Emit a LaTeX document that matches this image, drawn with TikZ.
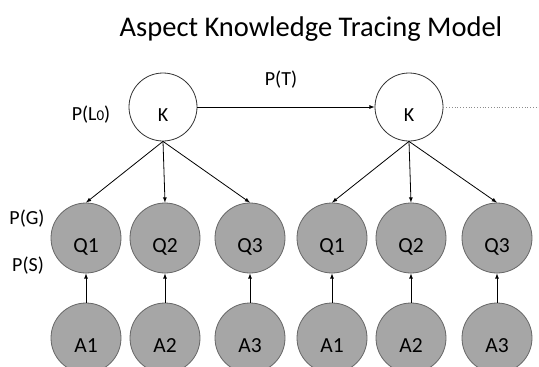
\documentclass[tikz,border=0pt]{standalone}
\usepackage{fontspec}
\setmainfont{Carlito}
\newcommand{\lowtxt}[1]{\raisebox{-14.5pt}[0pt][0pt]{#1}}
\begin{document}
\begin{tikzpicture}[x=1pt,y=-1pt,
  knode/.style={circle,draw=black!80,line width=0.8pt,fill=white,minimum size=68pt,inner sep=0pt,font=\fontsize{20}{22}\selectfont},
  onode/.style={circle,draw=black!60,line width=0.8pt,fill=black!35,minimum size=70pt,inner sep=0pt,font=\fontsize{21.5}{23}\selectfont},
  lbl/.style={font=\fontsize{20}{22}\selectfont,inner sep=0pt},
  arr/.style={-latex,line width=0.8pt}]
\useasboundingbox (0,0) rectangle (539,367);
\clip (0,0) rectangle (539,367);
\node[font=\fontsize{28.5}{30}\selectfont,inner sep=0pt] (title) at (311,29) {Aspect Knowledge Tracing Model};
\node[knode] (k1) at (163,107) {\lowtxt{K}};
\node[knode] (k2) at (409,107) {\lowtxt{K}};
\coordinate (dotend) at (545,107);
\draw[arr] (k1) -- (k2);
\draw[dotted,black!45,line width=0.8pt] (k2.east) -- (dotend);
\node[lbl] (pt) at (281,80) {P(T)};
\node[lbl] (pl0) at (91,115) {P(L{\fontsize{15}{15}\selectfont 0})};
\node[lbl] (pg) at (27,219) {P(G)};
\node[lbl] (ps) at (28,266) {P(S)};
\foreach \nm/\x/\t in {q1/86/Q1,q2/165/Q2,q3/250/Q3,q4/332/Q1,q5/411/Q2,q6/497/Q3}{
  \node[onode] (\nm) at (\x,238) {\lowtxt{\t}};
}
\foreach \nm/\x/\t in {a1/86/A1,a2/165/A2,a3/250/A3,a4/332/A1,a5/411/A2,a6/497/A3}{
  \node[onode] (\nm) at (\x,338) {\lowtxt{\t}};
}
\foreach \q in {q1,q2,q3}{\draw[arr] (k1.south) -- (\q.north);}
\foreach \q in {q4,q5,q6}{\draw[arr] (k2.south) -- (\q.north);}
\foreach \i in {1,...,6}{\draw[arr] (a\i.north) -- (q\i.south);}
\end{tikzpicture}
\end{document}
